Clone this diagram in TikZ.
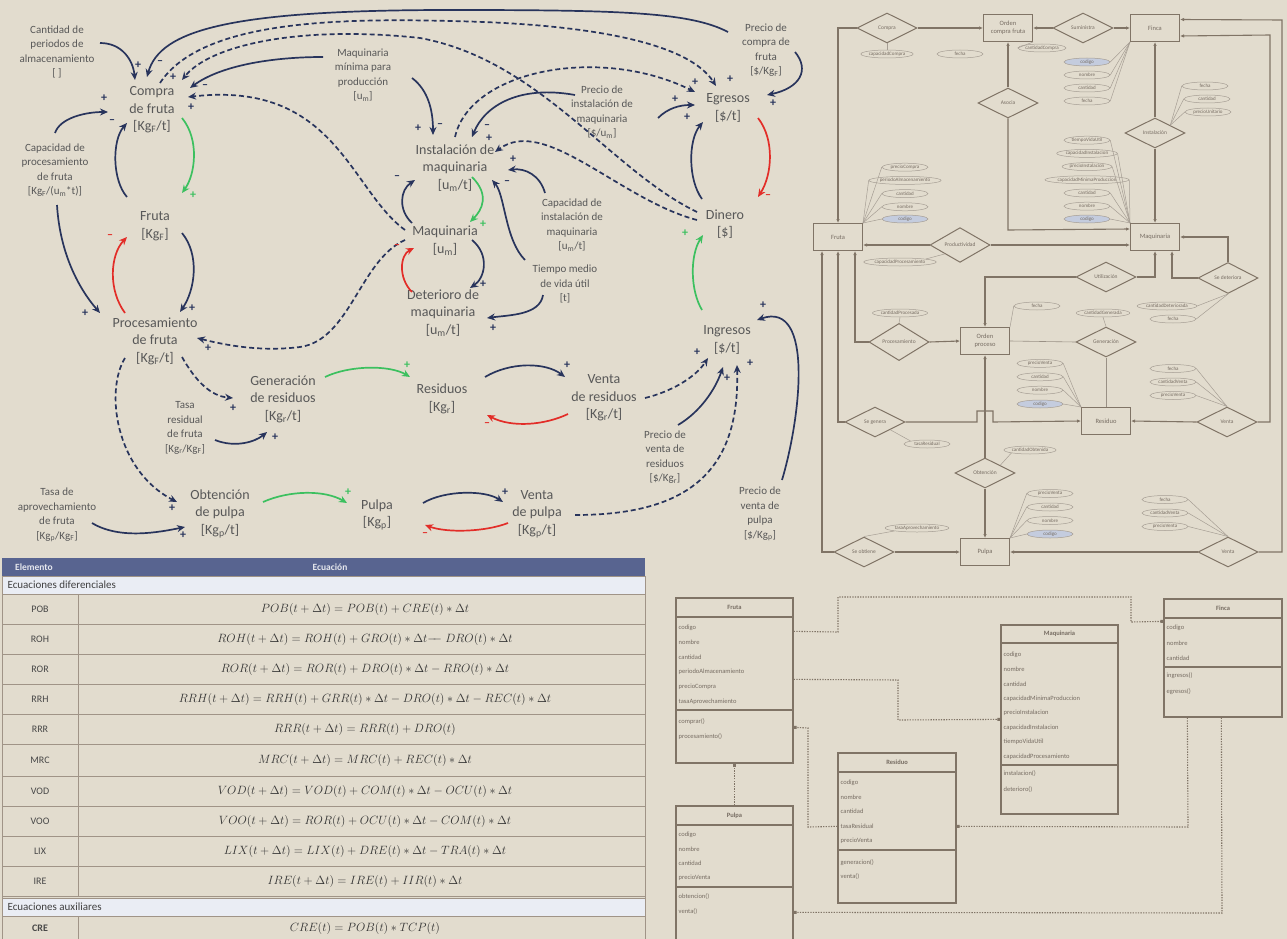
\documentclass[tikz,border=0pt]{standalone}
\usepackage{fontspec}
\setmainfont{Carlito}
\usetikzlibrary{arrows.meta,calc,shapes.geometric}
\pgfdeclarelayer{paperlayer}
\pgfdeclarelayer{lines}
\pgfsetlayers{paperlayer,lines,main}

\definecolor{paper}{RGB}{226,220,206}
\definecolor{ink}{RGB}{88,88,88}
\definecolor{cnavy}{RGB}{40,52,92}
\definecolor{cgreen}{RGB}{60,192,95}
\definecolor{cred}{RGB}{226,45,40}
\definecolor{hdr}{RGB}{88,100,144}
\definecolor{subrow}{RGB}{234,237,244}
\definecolor{gridc}{RGB}{160,148,135}
\definecolor{erline}{RGB}{128,116,102}
\definecolor{ertext}{RGB}{118,108,98}
\definecolor{keyfill}{RGB}{196,204,222}

\tikzset{
  lab/.style={font=\fontsize{14}{17.5}\selectfont, text=ink, align=center, inner sep=1pt},
  smlab/.style={font=\fontsize{11}{14.5}\selectfont, text=ink, align=center, inner sep=1pt},
  link/.style={draw=cnavy, line width=1.7pt, -{Stealth[length=8pt,width=7pt]}},
  dlink/.style={link, dash pattern=on 5pt off 3pt},
  glink/.style={link, draw=cgreen},
  rlink/.style={link, draw=cred},
  sgn/.style={font=\fontsize{12}{12}\selectfont\bfseries, text=cnavy, inner sep=0pt},
  gsgn/.style={sgn, text=cgreen},
  rsgn/.style={sgn, text=cred},
  rowlab/.style={font=\fontsize{10}{11}\selectfont, text=black!72},
  eqtxt/.style={font=\fontsize{13}{15}\selectfont, text=black!80},
  ent/.style={draw=erline, line width=1pt, fill=paper, minimum width=49pt, minimum height=27pt,
    font=\fontsize{6.5}{7.5}\selectfont, text=ertext, align=center, inner sep=1pt},
  erel/.style={draw=erline, line width=1pt, diamond, fill=paper, minimum width=60pt, minimum height=30pt,
    inner sep=0pt, font=\fontsize{5.5}{6}\selectfont, text=ertext},
  att/.style={draw=erline!70, line width=0.5pt, ellipse, fill=paper, minimum width=46pt, minimum height=8pt,
    inner sep=0.3pt, font=\fontsize{5}{5}\selectfont, text=ertext},
  keyatt/.style={att, fill=keyfill},
  attl/.style={draw=erline!70, line width=0.5pt},
  erl/.style={draw=erline, line width=1.1pt},
  era/.style={erl, -{Latex[length=4pt,width=3.5pt]}},
  erthin/.style={draw=erline!80, line width=0.6pt},
  umlbox/.style={draw=erline, line width=1.3pt, inner sep=0pt},
  umlsep/.style={draw=erline, line width=1.1pt},
  umltitle/.style={font=\fontsize{6.5}{7}\selectfont\bfseries, text=ertext, inner sep=0.5pt},
  umltxt/.style={font=\fontsize{6.5}{7}\selectfont, text=ertext, anchor=west, inner sep=0.5pt},
  umlc/.style={draw=erline, line width=1.1pt, dash pattern=on 1.3pt off 1.3pt, -{Square[length=3pt,width=3pt]}},
}

\begin{document}
\begin{tikzpicture}[x=1pt,y=-1pt]
\useasboundingbox (0,0) rectangle (1287,939);
\begin{pgfonlayer}{paperlayer}
  \fill[paper] (0,0) rectangle (1287,939);
\end{pgfonlayer}

% ---------------- causal loop diagram: variables ----------------
\node[smlab] (cant)  at (57,52)  {Cantidad de\\periodos de\\almacenamiento\\{[ ]}};
\node[lab]   (compra) at (152,110) {Compra\\de fruta\\{[Kg\textsubscript{F}/t]}};
\node[smlab] (cap)   at (55,170) {Capacidad de\\procesamiento\\de fruta\\{[Kg\textsubscript{F}/(u\textsubscript{m}*t)]}};
\node[lab]   (fruta) at (155,226) {Fruta\\{[Kg\textsubscript{F}]}};
\node[lab]   (proc)  at (155,341) {Procesamiento\\de fruta\\{[Kg\textsubscript{F}/t]}};
\node[lab]   (gen)   at (283,399) {Generación\\de residuos\\{[Kg\textsubscript{r}/t]}};
\node[smlab] (tasar) at (185,428) {Tasa\\residual\\de fruta\\{[Kg\textsubscript{r}/Kg\textsubscript{F}]}};
\node[smlab] (tasaa) at (57,515) {Tasa de\\aprovechamiento\\de fruta\\{[Kg\textsubscript{p}/Kg\textsubscript{F}]}};
\node[lab]   (obt)   at (220,514) {Obtención\\de pulpa\\{[Kg\textsubscript{p}/t]}};
\node[lab]   (pulpa) at (377,515) {Pulpa\\{[Kg\textsubscript{p}]}};
\node[lab]   (res)   at (442,399) {Residuos\\{[Kg\textsubscript{r}]}};
\node[lab]   (vres)  at (604,398) {Venta\\de residuos\\{[Kg\textsubscript{r}/t]}};
\node[lab]   (vpul)  at (537,514) {Venta\\de pulpa\\{[Kg\textsubscript{p}/t]}};
\node[smlab] (pvres) at (665,457) {Precio de\\venta de\\residuos\\{[\$/Kg\textsubscript{r}]}};
\node[smlab] (pvpul) at (760,514) {Precio de\\venta de\\pulpa\\{[\$/Kg\textsubscript{p}]}};
\node[lab]   (ing)   at (727,340) {Ingresos\\{[\$/t]}};
\node[lab]   (din)   at (725,224) {Dinero\\{[\$]}};
\node[lab]   (egr)   at (728,108) {Egresos\\{[\$/t]}};
\node[smlab] (pcf)   at (766,50) {Precio de\\compra de\\fruta\\{[\$/Kg\textsubscript{F}]}};
\node[smlab] (pinst) at (602,112) {Precio de\\instalación de\\maquinaria\\{[\$/u\textsubscript{m}]}};
\node[smlab] (mmin)  at (363,75) {Maquinaria\\mínima para\\producción\\{[u\textsubscript{m}]}};
\node[lab]   (inst)  at (455,168) {Instalación de\\maquinaria\\{[u\textsubscript{m}/t]}};
\node[smlab] (capi)  at (572,225) {Capacidad de\\instalación de\\maquinaria\\{[u\textsubscript{m}/t]}};
\node[lab]   (maq)   at (445,241) {Maquinaria\\{[u\textsubscript{m}]}};
\node[smlab] (tmed)  at (565,284) {Tiempo medio\\de vida útil\\{[t]}};
\node[lab]   (det)   at (443,313) {Deterioro de\\maquinaria\\{[u\textsubscript{m}/t]}};

% ---------------- causal links ----------------
\draw[link] ($(cant)+(43,-9)$) .. controls (122,43) and (133,60) .. ($(compra)+(-17,-30)$);
\draw[link] ($(pcf)+(-38,-18)$) .. controls (690,12) and (620,10) .. (450,10) .. controls (230,10) and (160,30) .. ($(compra)+(-5,-33)$);
\draw[dlink] ($(compra)+(8,-27)$) .. controls (200,22) and (330,18) .. (450,21) .. controls (600,24) and (690,45) .. ($(egr)+(-12,-22)$);
\draw[dlink] ($(din)+(-28,-12)$) .. controls (610,170) and (540,60) .. (420,38) .. controls (300,25) and (210,45) .. ($(compra)+(30,-30)$);
\draw[link] ($(mmin)+(-40,-18)$) .. controls (270,57) and (220,66) .. ($(compra)+(38,-22)$);
\draw[dlink] ($(maq)+(-40,-11)$) .. controls (350,190) and (335,80) .. ($(compra)+(36,-13)$);
\draw[link] ($(cap)+(0,-37)$) .. controls (60,118) and (85,112) .. ($(compra)+(-44,2)$);
\draw[link] ($(fruta)+(-28,-29)$) .. controls (112,180) and (112,140) .. ($(compra)+(-25,13)$);
\draw[glink] ($(compra)+(30,8)$) .. controls (200,140) and (195,175) .. ($(fruta)+(27,-33)$);
\draw[rlink] ($(proc)+(-30,-28)$) .. controls (108,290) and (110,255) .. ($(fruta)+(-28,11)$);
\draw[link] ($(fruta)+(27,7)$) .. controls (200,255) and (195,290) .. ($(proc)+(25,-29)$);
\draw[link] ($(cap)+(2,35)$) .. controls (60,255) and (80,290) .. ($(proc)+(-55,-28)$);
\draw[dlink] ($(maq)+(-40,-1)$) .. controls (360,260) and (350,340) .. (300,347) .. controls (260,352) and (225,345) .. ($(proc)+(42,-3)$);
\draw[dlink] ($(proc)+(27,16)$) .. controls (195,380) and (210,396) .. ($(gen)+(-50,-1)$);
\draw[link] ($(tasar)+(30,12)$) .. controls (235,448) and (255,442) .. ($(gen)+(-16,33)$);
\draw[dlink] ($(proc)+(-30,17)$) .. controls (105,390) and (115,470) .. ($(obt)+(-43,-12)$);
\draw[link] ($(tasaa)+(35,8)$) .. controls (120,540) and (160,532) .. ($(obt)+(-35,13)$);
\draw[glink] ($(gen)+(42,-22)$) .. controls (350,365) and (390,365) .. ($(res)+(-32,-22)$);
\draw[glink] ($(obt)+(43,-12)$) .. controls (290,490) and (325,490) .. ($(pulpa)+(-30,-12)$);
\draw[link] ($(res)+(43,-22)$) .. controls (510,362) and (545,362) .. ($(vres)+(-39,-21)$);
\draw[rlink] ($(vres)+(-36,16)$) .. controls (545,425) and (512,428) .. ($(res)+(45,16)$);
\draw[link] ($(pulpa)+(46,-12)$) .. controls (445,490) and (485,490) .. ($(vpul)+(-34,-12)$);
\draw[rlink] ($(vpul)+(-29,9)$) .. controls (485,532) and (447,533) .. ($(pulpa)+(48,10)$);
\draw[dlink] ($(vres)+(41,0)$) .. controls (670,392) and (695,378) .. ($(ing)+(-19,18)$);
\draw[link] ($(pvres)+(13,-32)$) .. controls (700,412) and (715,390) .. ($(ing)+(-4,27)$);
\draw[dlink] ($(vpul)+(38,1)$) .. controls (690,515) and (740,470) .. ($(ing)+(10,25)$);
\draw[link] ($(pvpul)+(22,-34)$) .. controls (800,420) and (815,300) .. ($(ing)+(30,-20)$);
\draw[glink] ($(ing)+(-25,-30)$) .. controls (690,290) and (690,255) .. ($(din)+(-22,11)$);
\draw[link] ($(din)+(-23,-25)$) .. controls (688,180) and (688,140) .. ($(egr)+(-25,14)$);
\draw[rlink] ($(egr)+(30,10)$) .. controls (775,140) and (772,175) .. ($(din)+(33,-27)$);
\draw[link] ($(pcf)+(29,2)$) .. controls (810,70) and (800,88) .. ($(egr)+(39,-13)$);
\draw[link] ($(pinst)+(56,6)$) .. controls (668,108) and (680,105) .. ($(egr)+(-33,-3)$);
\draw[dlink] ($(inst)+(0,-31)$) .. controls (470,70) and (600,45) .. ($(egr)+(-33,-16)$);
\draw[link] ($(pinst)+(-27,-17)$) .. controls (520,85) and (485,105) .. ($(inst)+(17,-31)$);
\draw[link] ($(mmin)+(49,3)$) .. controls (428,90) and (433,110) .. ($(inst)+(-22,-33)$);
\draw[dlink] ($(din)+(-28,-4)$) .. controls (620,200) and (545,115) .. ($(inst)+(40,-16)$);
\draw[link] ($(capi)+(-27,-32)$) .. controls (540,175) and (525,168) .. ($(inst)+(53,2)$);
\draw[link] ($(tmed)+(-40,-24)$) .. controls (505,240) and (505,195) .. ($(inst)+(37,12)$);
\draw[link] ($(maq)+(-33,-18)$) .. controls (398,210) and (400,190) .. ($(inst)+(-40,12)$);
\draw[glink] ($(inst)+(17,9)$) .. controls (490,195) and (482,210) .. ($(maq)+(25,-19)$);
\draw[rlink] ($(det)+(-31,-21)$) .. controls (398,278) and (400,255) .. ($(maq)+(-31,7)$);
\draw[link] ($(maq)+(27,-1)$) .. controls (490,255) and (485,278) .. ($(det)+(27,-25)$);
\draw[link] ($(tmed)+(-22,11)$) .. controls (540,315) and (510,315) .. ($(det)+(44,5)$);

% polarity signs
\foreach \i/\xx/\yy/\t in {1/138/65/+, 2/160/63/–, 3/173/77/+, 4/205/87/–, 5/191/107/+, 6/104/98/+, 7/112/122/–,
  8/85/313/+, 9/192/308/+, 10/208/348/+, 11/233/408/+, 12/275/437/+, 13/172/508/+, 14/183/535/+,
  15/567/365/+, 16/505/492/+, 17/697/352/+, 18/727/378/+, 19/750/363/+, 20/763/305/+,
  21/695/82/+, 22/730/79/+, 23/675/99/+, 24/687/117/+, 25/773/103/+,
  26/418/128/+, 27/440/126/–, 28/487/127/–, 29/489/138/+, 30/513/159/+, 31/507/183/–, 32/397/178/–,
  33/483/284/+, 34/493/328/+}
  \node[sgn] (sn\i) at (\xx,\yy) {\t};
\foreach \i/\xx/\yy in {1/193/195, 2/407/365, 3/348/492, 4/685/233, 5/483/224}
  \node[gsgn] (sg\i) at (\xx,\yy) {+};
\foreach \i/\xx/\yy in {1/110/237, 2/487/425, 3/425/535, 4/768/197, 5/397/247}
  \node[rsgn] (sr\i) at (\xx,\yy) {–};

% ---------------- equations table ----------------
\fill[hdr] (2,558) rectangle (645,576);
\node[font=\fontsize{9.5}{10}\selectfont\bfseries, text=white!85!hdr] (hElem) at (34,567) {Elemento};
\node[font=\fontsize{9.5}{10}\selectfont\bfseries, text=white!85!hdr] (hEq) at (330,567) {Ecuación};
\draw[gridc, line width=0.8pt, fill=subrow] (2,576) rectangle (645,594);
\node[font=\fontsize{11}{12}\selectfont, text=black!75, anchor=west] (secDif) at (4,585) {Ecuaciones diferenciales};
\foreach \yy in {624,654,684,714,744,776,806,836,866,896}
  \draw[gridc, line width=1pt] (2,\yy) -- (645,\yy);
\draw[gridc, line width=1pt] (78,594) -- (78,896);
\draw[gridc, line width=1pt] (2,576) -- (2,939);
\draw[gridc, line width=1pt] (645,576) -- (645,939);
\draw[gridc, line width=0.8pt, fill=subrow] (2,898) rectangle (645,916);
\node[font=\fontsize{11}{12}\selectfont, text=black!75, anchor=west] (secAux) at (4,907) {Ecuaciones auxiliares};
\draw[gridc, line width=1pt] (78,916) -- (78,939);
\foreach \yy/\lb/\eq in {
  609/POB/{POB(t+\Delta t)=POB(t)+CRE(t)\ast\Delta t},
  639/ROH/{ROH(t+\Delta t)=ROH(t)+GRO(t)\ast\Delta t{-}\!\!{-}\;DRO(t)\ast\Delta t},
  669/ROR/{ROR(t+\Delta t)=ROR(t)+DRO(t)\ast\Delta t-RRO(t)\ast\Delta t},
  699/RRH/{RRH(t+\Delta t)=RRH(t)+GRR(t)\ast\Delta t-DRO(t)\ast\Delta t-REC(t)\ast\Delta t},
  729/RRR/{RRR(t+\Delta t)=RRR(t)+DRO(t)},
  760/MRC/{MRC(t+\Delta t)=MRC(t)+REC(t)\ast\Delta t},
  791/VOD/{VOD(t+\Delta t)=VOD(t)+COM(t)\ast\Delta t-OCU(t)\ast\Delta t},
  821/VOO/{VOO(t+\Delta t)=ROR(t)+OCU(t)\ast\Delta t-COM(t)\ast\Delta t},
  851/LIX/{LIX(t+\Delta t)=LIX(t)+DRE(t)\ast\Delta t-TRA(t)\ast\Delta t},
  881/IRE/{IRE(t+\Delta t)=IRE(t)+IIR(t)\ast\Delta t}} {
  \node[rowlab] (row\lb) at (40,\yy) {\lb};
  \node[eqtxt] (eq\lb) at (365,\yy) {$\eq$};
}
\node[rowlab, font=\fontsize{10}{11}\selectfont\bfseries] (rowCRE) at (40,928) {CRE};
\node[eqtxt] (eqCRE) at (365,928) {$CRE(t)=POB(t)\ast TCP(t)$};

% ---------------- entity-relationship diagram ----------------
\node[ent] (eOC)    at (1008,28)  {Orden\\compra fruta};
\node[ent] (eFinca) at (1155,28)  {Finca};
\node[ent] (eFruta) at (838,237)  {Fruta};
\node[ent] (eMaq)   at (1155,237) {Maquinaria};
\node[ent] (eOP)    at (985,341)  {Orden\\proceso};
\node[ent] (eRes)   at (1106,421) {Residuo};
\node[ent] (ePul)   at (985,552)  {Pulpa};

\node[erel] (dCompra) at (887,28)   {Compra};
\node[erel] (dSum)    at (1083,28)  {Suministra};
\node[erel] (dAsoc)   at (1008,103) {Asocia};
\node[erel] (dInst)   at (1155,133) {Instalación};
\node[erel] (dProd)   at (960,245)  {Productividad};
\node[erel] (dUtil)   at (1106,277) {Utilización};
\node[erel] (dDet)    at (1228,278) {Se deteriora};
\node[erel] (dProc)   at (899,342)  {Procesamiento};
\node[erel] (dGen)    at (1106,342) {Generación};
\node[erel] (dSeGen)  at (875,422)  {Se genera};
\node[erel] (dVenR)   at (1227,422) {Venta};
\node[erel] (dObt)    at (985,473)  {Obtención};
\node[erel] (dSeObt)  at (864,552)  {Se obtiene};
\node[erel] (dVenP)   at (1228,552) {Venta};

\begin{pgfonlayer}{lines}
\draw[era] (dCompra.west) -- (838,28) -- (eFruta.north);
\draw[era] (dCompra.east) -- (eOC.west);
\draw[era] (dSum.west) -- (eOC.east);
\draw[era] (dSum.east) -- (eFinca.west);
\draw[era] (dAsoc.north) -- (eOC.south);
\draw[era] (dAsoc.south) -- (1008,230) -- ($(eMaq.north west)+(0,6)$);
\draw[era] (dInst.north) -- (eFinca.south);
\draw[era] (dInst.south) -- (eMaq.north);
\draw[era] (dProd.west) -- (eFruta.east |- dProd.west);
\draw[era] (dProd.east) -- (eMaq.west |- dProd.east);
\draw[era] (dVenP.east) -- (1282,552) -- (1282,20) -- ($(eFinca.north east)+(0,5.5)$);
\draw[era] (dVenR.east) -- (1270,422) -- (1270,35) -- ($(eFinca.south east)+(0,-6)$);
\draw[era] (dUtil.east) -- (1155,277) -- (eMaq.south);
\draw[era] (dUtil.west) -- (985,277) -- (eOP.north);
\draw[era] (dDet.north) -- (1228,237) -- (eMaq.east);
\draw[era] (dDet.west) -- (1172,278) -- ($(eMaq.south)+(17,0)$);
\draw[era] (dProc.west) -- (855,342) -- ($(eFruta.south)+(17,0)$);
\draw[era] (dProc.east) -- (eOP.west);
\draw[era] (dSeGen.west) -- (838,422) -- (eFruta.south);
\draw[era] (dSeGen.east) -- (977,422) -- (977,411) -- (993,411) -- (993,422) -- (eRes.west);
\draw[era] (dSeObt.west) -- (822,552) -- ($(eFruta.south)+(-16,0)$);
\draw[era] (dSeObt.east) -- (ePul.west);
\draw[era] (dObt.north) -- (eOP.south);
\draw[era] (dObt.south) -- (ePul.north);
\draw[erthin] (eOP.east) -- (dGen.west);
\draw[erthin] (dGen.south) -- (eRes.north);
\draw[era] (dVenR.west) -- (eRes.east);
\draw[era] (dVenP.west) -- (ePul.east);
\end{pgfonlayer}

% attributes
\node[att] (ac1) at (887,54) {capacidadCompra};
\node[att] (ac2) at (960,54) {fecha};
\node[att] (ac3) at (1042,48) {cantidadCompra};
\draw[attl] (ac1.north) -- (dCompra.south);
\draw[attl] (ac3.west) -- (eOC.south east);

\node[keyatt] (afi1) at (1087,62) {codigo};
\foreach \t [count=\k from 2] in {nombre,cantidad,fecha}
  \node[att] (afi\k) at (1087,{49+13*\k}) {\t};
\foreach \k in {1,...,4} \draw[attl] (afi\k.east) -- (eFinca.south west);

\foreach \t/\xx/\yy [count=\k] in {fecha/1205/86, cantidad/1207/99, precioUnitario/1208/112} {
  \node[att] (ain\k) at (\xx,\yy) {\t};
  \draw[attl] (ain\k.west) -- (dInst.north east);
}

\foreach \t [count=\k] in {tiempoVidaUtil,capacidadInstalacion,precioInstalacion,capacidadMinimaProduccion,cantidad,nombre}
  \node[att] (ama\k) at (1087,{127+13.2*\k}) {\t};
\node[keyatt] (ama7) at (1087,219) {codigo};
\foreach \k in {1,...,7} \draw[attl] (ama\k.east) -- (eMaq.north west);

\foreach \t [count=\k] in {precioCompra,periodoAlmacenamiento,cantidad,nombre}
  \node[att] (afr\k) at (905,{154+13.2*\k}) {\t};
\node[keyatt] (afr5) at (905,219) {codigo};
\foreach \k in {1,...,5} \draw[attl] (afr\k.west) -- (eFruta.north east);

\node[att] (apr1) at (900,262) {capacidadProcesamiento};
\draw[attl] (apr1.north east) -- (dProd.south west);
\node[att] (apc1) at (900,313) {cantidadProcesada};
\draw[attl] (apc1.south) -- (dProc.north);
\node[att] (aop1) at (1037,306) {fecha};
\draw[attl] (aop1.west) -- (eOP.north east);
\node[att] (agn1) at (1103,313) {cantidadGenerada};
\draw[attl] (agn1.south) -- (dGen.north);
\node[att] (adt1) at (1167,306) {cantidadDeteriorada};
\node[att] (adt2) at (1173,319) {fecha};
\draw[attl] (adt1.east) -- (dDet.south);
\draw[attl] (adt2.east) -- (dDet.south);

\foreach \t [count=\k] in {precioVenta,cantidad,nombre}
  \node[att] (are\k) at (1040,{350+13.4*\k}) {\t};
\node[keyatt] (are4) at (1040,404) {codigo};
\foreach \k in {1,...,4} \draw[attl] (are\k.east) -- (eRes.north west);

\foreach \t [count=\k] in {fecha,cantidadVenta,precioVenta} {
  \node[att] (avr\k) at (1173,{355+13.5*\k}) {\t};
  \draw[attl] (avr\k.east) -- (dVenR.north);
}
\node[att] (asg1) at (927,444) {tasaResidual};
\draw[attl] (asg1.north west) -- (dSeGen.south east);
\node[att] (aob1) at (1030,450) {cantidadObtenida};
\draw[attl] (aob1.south west) -- (dObt.north east);

\foreach \t [count=\k] in {precioVenta,cantidad,nombre}
  \node[att] (apu\k) at (1050,{480+13.5*\k}) {\t};
\node[keyatt] (apu4) at (1050,534) {codigo};
\foreach \k in {1,...,4} \draw[attl] (apu\k.west) -- (ePul.north east);

\foreach \t [count=\k] in {fecha,cantidadVenta,precioVenta} {
  \node[att] (avp\k) at (1165,{486+13.5*\k}) {\t};
  \draw[attl] (avp\k.east) -- (dVenP.north);
}
\node[att] (aso1) at (917,528) {tasaAprovechamiento};
\draw[attl] (aso1.south west) -- (dSeObt.north);

% ---------------- class diagram ----------------
\node[umlbox, minimum width=117pt, minimum height=165pt] (cFruta) at (734.5,680.5) {};
\node[umlbox, minimum width=117pt, minimum height=150pt] (cPulpa) at (734.5,881) {};
\node[umlbox, minimum width=118pt, minimum height=150pt] (cRes)   at (897,828) {};
\node[umlbox, minimum width=117pt, minimum height=189pt] (cMaq)   at (1059.5,719.5) {};
\node[umlbox, minimum width=118pt, minimum height=118pt] (cFinca) at (1223,658) {};

\draw[umlsep] (676,617) -- (793,617);  \draw[umlsep] (676,710) -- (793,710);
\draw[umlsep] (676,825) -- (793,825);  \draw[umlsep] (676,887) -- (793,887);
\draw[umlsep] (838,772) -- (956,772);  \draw[umlsep] (838,850) -- (956,850);
\draw[umlsep] (1001,643) -- (1118,643); \draw[umlsep] (1001,765) -- (1118,765);
\draw[umlsep] (1164,618) -- (1282,618); \draw[umlsep] (1164,667) -- (1282,667);

\node[umltitle] (tFruta) at (734.5,607.5) {Fruta};
\node[umltitle] (tPulpa) at (734.5,816) {Pulpa};
\node[umltitle] (tRes)   at (897,762.5) {Residuo};
\node[umltitle] (tMaq)   at (1059.5,634) {Maquinaria};
\node[umltitle] (tFinca) at (1223,608.5) {Finca};

\foreach \t [count=\k] in {codigo,nombre,cantidad,periodoAlmacenamiento,precioCompra,tasaAprovechamiento}
  \node[umltxt] (ufr\k) at (678,{613+14.8*\k}) {\t};
\foreach \t [count=\k] in {comprar(),procesamiento()}
  \node[umltxt] (ufm\k) at (678,{707+15*\k}) {\t};
\foreach \t [count=\k] in {codigo,nombre,cantidad,precioVenta}
  \node[umltxt] (upa\k) at (678,{820+14.5*\k}) {\t};
\foreach \t [count=\k] in {obtencion(),venta()}
  \node[umltxt] (upm\k) at (678,{882+15*\k}) {\t};
\foreach \t [count=\k] in {codigo,nombre,cantidad,tasaResidual,precioVenta}
  \node[umltxt] (ure\k) at (840,{768+14.5*\k}) {\t};
\foreach \t [count=\k] in {generacion(),venta()}
  \node[umltxt] (urm\k) at (840,{848+14.5*\k}) {\t};
\foreach \t [count=\k] in {codigo,nombre,cantidad,capacidadMinimaProduccion,precioInstalacion,capacidadInstalacion,tiempoVidaUtil,capacidadProcesamiento}
  \node[umltxt] (uma\k) at (1003,{640.5+14.5*\k}) {\t};
\foreach \t [count=\k] in {instalacion(),deterioro()}
  \node[umltxt] (umm\k) at (1003,{758+16*\k}) {\t};
\foreach \t [count=\k] in {codigo,nombre,cantidad}
  \node[umltxt] (ufi\k) at (1166,{613+15*\k}) {\t};
\foreach \t [count=\k] in {ingresos(),egresos()}
  \node[umltxt] (ufn\k) at (1166,{660+16*\k}) {\t};

\draw[umlc] ($(cFruta.north east)+(0,34)$) -- (838,632) -- (838,597) -- (1131,597) -- (1131,622) -- ($(cFinca.north west)+(0,23)$);
\draw[umlc] ($(cFruta.north east)+(0,82)$) -- (898,680) -- (898,720) -- ($(cMaq.north west)+(0,95)$);
\draw[umlc] ($(cRes.north west)+(0,74)$) -- (808,827) -- (808,728) -- ($(cFruta.north east)+(0,130)$);
\draw[umlc] (cPulpa.north) -- (cFruta.south);
\draw[umlc] ($(cFinca.south west)+(24,0)$) -- (1188,827) -- ($(cRes.north east)+(0,74)$);
\draw[umlc] ($(cFinca.south west)+(58,0)$) -- (1222,913) -- ($(cPulpa.north east)+(0,107)$);
\end{tikzpicture}
\end{document}
